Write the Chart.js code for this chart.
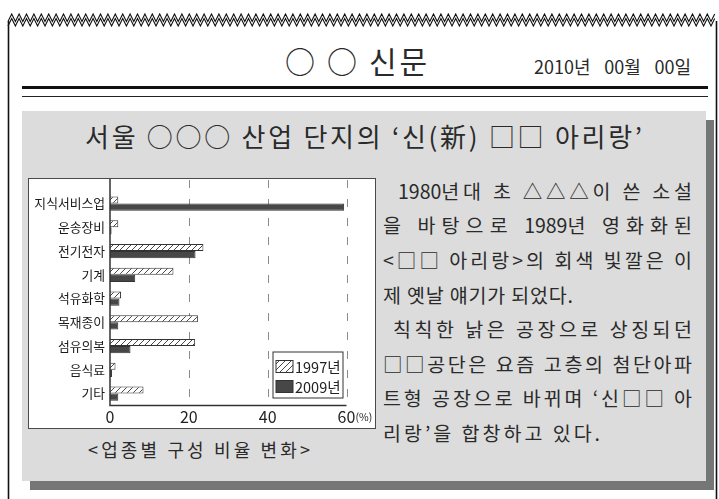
<!DOCTYPE html>
<html><head><meta charset="utf-8">
<script src="https://cdn.jsdelivr.net/npm/chart.js@4/dist/chart.umd.min.js"></script>
<style>
html,body{margin:0;padding:0;background:#fff;}
body{width:719px;height:499px;position:relative;overflow:hidden;font-family:"Noto Sans CJK KR","Noto Sans",sans-serif;color:#2a2a2a;}
.t{position:absolute;white-space:nowrap;}
.d{letter-spacing:0 !important;}
#panelShadow{position:absolute;left:30px;top:120px;width:684px;height:370px;background:#767676;}
#panel{position:absolute;left:22px;top:111px;width:684px;height:370px;background:#dcdcdc;}
#chartBox{position:absolute;left:28px;top:178px;width:346px;height:249px;border:1px solid #4a4a4a;background:#fff;}
.p{font-size:19.5px;line-height:19.5px;height:19.5px;}
</style></head>
<body>
<svg id="deco" width="719" height="499" style="position:absolute;left:0;top:0"></svg>
<div class="t fit" data-w="142" style="left:285px;top:45px;font-size:30px;line-height:30px;">○ ○ 신문</div>
<div class="t fit" data-w="157" style="left:534px;top:57px;font-size:18px;line-height:18px;">2010년 00월 00일</div>
<div style="position:absolute;left:22px;top:86px;width:686px;height:3px;background:#111;"></div>
<div style="position:absolute;left:22px;top:95.5px;width:686px;height:1.5px;background:#222;"></div>
<div id="panelShadow"></div>
<div id="panel"></div>
<div class="t fit" data-w="557" style="left:85px;top:123px;font-size:26px;line-height:26px;">서울 ○○○ 산업 단지의 ‘신(新) □□ 아리랑’</div>
<div id="chartBox"><canvas id="c" width="346" height="249"></canvas></div>
<div class="t fit" data-w="222" style="left:88px;top:440px;font-size:18px;line-height:18px;">&lt;업종별 구성 비율 변화&gt;</div>
<div class="t fit p" data-w="294" style="left:398px;top:180.5px;">1980년대 초 △△△이 쓴 소설</div>
<div class="t fit p" data-w="309" style="left:383px;top:215px;">을 바탕으로 1989년 영화화된</div>
<div class="t fit p" data-w="309" style="left:383px;top:249.5px;">&lt;□□ 아리랑&gt;의 회색 빛깔은 이</div>
<div class="t fit p" data-w="190" style="left:383px;top:284.5px;">제 옛날 얘기가 되었다.</div>
<div class="t fit p" data-w="299" style="left:393px;top:319px;">칙칙한 낡은 공장으로 상징되던</div>
<div class="t fit p" data-w="309" style="left:383px;top:353.5px;">□□공단은 요즘 고층의 첨단아파</div>
<div class="t fit p" data-w="309" style="left:383px;top:388px;">트형 공장으로 바뀌며 ‘신□□ 아</div>
<div class="t fit p" data-w="217" style="left:383px;top:422.5px;">리랑’을 합창하고 있다.</div>
<script>
// ---- data ----
const categories = ['지식서비스업','운송장비','전기전자','기계','석유화학','목재종이','섬유의복','음식료','기타'];
const values1997 = [2.1, 2.1, 23.7, 16.1, 2.8, 22.3, 21.6, 1.4, 8.5];
const values2009 = [59.4, 0.4, 21.7, 6.4, 2.4, 2.1, 5.2, 0.5, 2.1];
const seriesLabels = ['1997년','2009년'];
const xTicks = [0, 20, 40, 60];
const unitLabel = '(%)';

// ---- fit text widths with letter spacing (digits kept tight) ----
document.querySelectorAll('.fit').forEach(el => {
  const target = parseFloat(el.dataset.w);
  const txt = el.textContent;
  el.innerHTML = el.innerHTML.replace(/(\d+)/g, '<span class="d">$1</span>');
  el.style.letterSpacing = '0px';
  const natural = el.getBoundingClientRect().width;
  const chars = Array.from(txt);
  const m = chars.filter(c => !/\d/.test(c)).length;
  const lastIsDigit = /\d/.test(chars[chars.length - 1]);
  const gaps = lastIsDigit ? m : m - 1;
  const ls = (target - natural) / Math.max(1, gaps);
  el.style.letterSpacing = ls.toFixed(2) + 'px';
});

// ---- decoration (frame, zigzag) ----
(function(){
  const svg = document.getElementById('deco');
  const ns = 'http://www.w3.org/2000/svg';
  function zig(y0, amp){
    let pts = [];
    const per = 7.4;
    for (let x = 8, k = 0; x <= 718; x += per/2, k++) pts.push(x.toFixed(1)+','+(k%2===0 ? y0+amp : y0));
    const pl = document.createElementNS(ns,'polyline');
    pl.setAttribute('points', pts.join(' '));
    pl.setAttribute('fill','none'); pl.setAttribute('stroke','#111'); pl.setAttribute('stroke-width','1.1');
    svg.appendChild(pl);
  }
  zig(14, 7.5); zig(18.5, 7.5);
  function line(x1,y1,x2,y2,w){
    const l = document.createElementNS(ns,'line');
    l.setAttribute('x1',x1);l.setAttribute('y1',y1);l.setAttribute('x2',x2);l.setAttribute('y2',y2);
    l.setAttribute('stroke','#111');l.setAttribute('stroke-width',w);svg.appendChild(l);
  }
  line(8.5,21,8.5,499,1.6);
  line(716.5,21,716.5,499,1.6);
})();

// ---- chart ----
const canvas = document.getElementById('c');
const ctx = canvas.getContext('2d');
function makeHatch(){
  const c = document.createElement('canvas'); c.width = 6; c.height = 6;
  const g = c.getContext('2d');
  g.fillStyle = '#fff'; g.fillRect(0,0,6,6);
  g.strokeStyle = '#333'; g.lineWidth = 0.9;
  g.beginPath();
  g.moveTo(0,6); g.lineTo(6,0);
  g.moveTo(-1,1); g.lineTo(1,-1);
  g.moveTo(5,7); g.lineTo(7,5);
  g.stroke();
  return ctx.createPattern(c,'repeat');
}
const hatch = makeHatch();
const FONT = '"Noto Sans CJK KR", "Noto Sans", sans-serif';

const framePlugin = {
  id: 'frame',
  beforeDatasetsDraw(chart){
    const {ctx, chartArea, scales:{x}} = chart;
    ctx.save();
    ctx.strokeStyle = '#8a8a8a'; ctx.lineWidth = 1; ctx.setLineDash([8,11]);
    xTicks.forEach(v => {
      if (v === 0) return;
      const px = Math.round(x.getPixelForValue(v)) + 0.5;
      ctx.beginPath(); ctx.moveTo(px, 1); ctx.lineTo(px, chartArea.bottom); ctx.stroke();
    });
    ctx.restore();
  },
  afterDatasetsDraw(chart){
    const {ctx, chartArea, scales:{x}} = chart;
    ctx.save();
    ctx.strokeStyle = '#333'; ctx.lineWidth = 1.5; ctx.setLineDash([]);
    const x0 = x.getPixelForValue(0);
    ctx.beginPath(); ctx.moveTo(x0, 0); ctx.lineTo(x0, chartArea.bottom); ctx.lineTo(x.getPixelForValue(xTicks[xTicks.length-1]), chartArea.bottom); ctx.stroke();
    // unit label
    ctx.fillStyle = '#222'; ctx.font = '10.5px ' + FONT; ctx.textBaseline = 'alphabetic'; ctx.textAlign = 'left';
    ctx.fillText(unitLabel, x.getPixelForValue(xTicks[xTicks.length-1]) + 9, chartArea.bottom + 15);
    // legend
    const bw = 70, bh = 46;
    const bx = chartArea.right - 4 - bw + 0.5, by = chartArea.bottom - 7.5 - bh;
    ctx.fillStyle = '#fff'; ctx.fillRect(bx, by, bw, bh);
    ctx.strokeStyle = '#333'; ctx.lineWidth = 1; ctx.strokeRect(bx, by, bw, bh);
    chart.data.datasets.forEach((ds, i) => {
      const sy = by + 8.5 + i * 20;
      ctx.fillStyle = ds.backgroundColor; ctx.fillRect(bx + 3, sy, 17, 12);
      ctx.strokeStyle = '#333'; ctx.strokeRect(bx + 3, sy, 17, 12);
      ctx.fillStyle = '#222'; ctx.font = '14.5px ' + FONT; ctx.textBaseline = 'middle';
      ctx.fillText(ds.label, bx + 22, sy + 6.5);
    });
    ctx.restore();
  }
};

new Chart(canvas, {
  type: 'bar',
  data: {
    labels: categories,
    datasets: [
      {label: seriesLabels[0], data: values1997, backgroundColor: hatch, borderColor: '#333', borderWidth: 1, categoryPercentage: 0.6, barPercentage: 1.0},
      {label: seriesLabels[1], data: values2009, backgroundColor: '#474747', borderColor: '#333', borderWidth: 1, categoryPercentage: 0.6, barPercentage: 1.0}
    ]
  },
  options: {
    indexAxis: 'y',
    responsive: false,
    animation: false,
    devicePixelRatio: 1,
    layout: {padding: {top: 7, right: 28.5, left: 0, bottom: 0}},
    plugins: {legend: {display: false}, tooltip: {enabled: false}, title: {display: false}},
    scales: {
      x: {
        min: 0, max: 60,
        afterBuildTicks(s){ s.ticks = xTicks.map(v => ({value: v})); },
        afterFit(s){ s.height = 22.5; },
        grid: {display: false, drawTicks: false},
        border: {display: false},
        ticks: {padding: 2, color: '#222', font: {family: FONT, size: 16}, maxRotation: 0}
      },
      y: {
        afterFit(s){ s.width = 81; },
        grid: {display: false, drawTicks: false},
        border: {display: false},
        ticks: {padding: 5, color: '#1a1a1a', font: {family: FONT, size: 12.8}}
      }
    }
  },
  plugins: [framePlugin]
});
</script>
</body></html>
